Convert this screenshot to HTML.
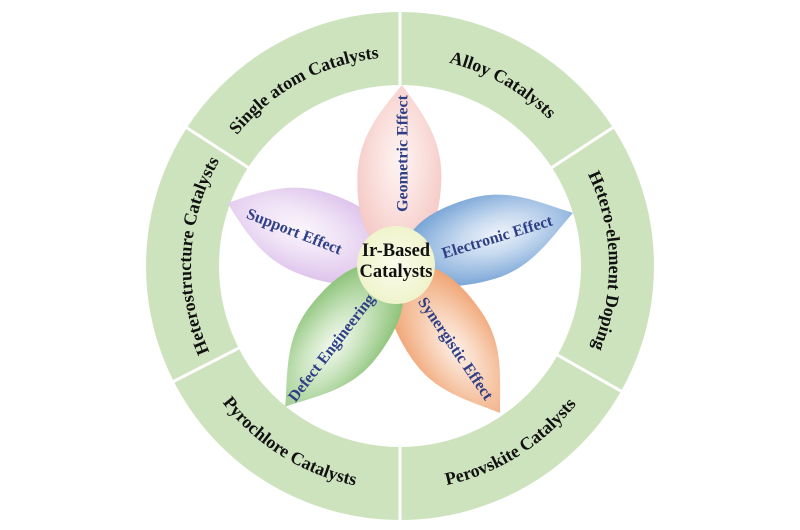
<!DOCTYPE html>
<html>
<head>
<meta charset="utf-8">
<style>
  html,body{margin:0;padding:0;background:#ffffff;}
  body{width:800px;height:530px;overflow:hidden;}
  svg{display:block;}
  .ring{font-family:"Liberation Serif",serif;font-weight:bold;font-size:18px;fill:#111;}
  .pt{font-family:"Liberation Serif",serif;font-weight:bold;font-size:16px;fill:#2f3f85;}
  .ct{font-family:"Liberation Serif",serif;font-weight:bold;font-size:18.5px;fill:#111;}
</style>
</head>
<body>
<svg width="800" height="530" viewBox="0 0 800 530" xmlns="http://www.w3.org/2000/svg">
  <defs>
    <path id="arcTop" d="M191,266 A209,209 0 0 1 609,266"/>
    <path id="arcBot" d="M176,266 A224,224 0 0 0 624,266"/>
    <radialGradient id="gPink" cx="0.55" cy="0.5" r="0.55">
      <stop offset="0" stop-color="#fdf4f3"/>
      <stop offset="0.45" stop-color="#fbe3e0"/>
      <stop offset="1" stop-color="#f5cac6"/>
    </radialGradient>
    <radialGradient id="gBlue" cx="0.55" cy="0.5" r="0.55">
      <stop offset="0" stop-color="#eef3fa"/>
      <stop offset="0.4" stop-color="#c6d9ef"/>
      <stop offset="1" stop-color="#7aa6d7"/>
    </radialGradient>
    <radialGradient id="gOrange" cx="0.55" cy="0.5" r="0.55">
      <stop offset="0" stop-color="#fdf0e8"/>
      <stop offset="0.45" stop-color="#f8d1b7"/>
      <stop offset="1" stop-color="#f0a676"/>
    </radialGradient>
    <radialGradient id="gGreen" cx="0.55" cy="0.5" r="0.55">
      <stop offset="0" stop-color="#f3f9f0"/>
      <stop offset="0.45" stop-color="#cbe5c0"/>
      <stop offset="1" stop-color="#8fc47c"/>
    </radialGradient>
    <radialGradient id="gLav" cx="0.55" cy="0.5" r="0.55">
      <stop offset="0" stop-color="#faf5fc"/>
      <stop offset="0.45" stop-color="#f0e2f6"/>
      <stop offset="1" stop-color="#ddc3eb"/>
    </radialGradient>
    <radialGradient id="gCenter" cx="0.5" cy="0.5" r="0.5">
      <stop offset="0" stop-color="#fbfcec"/>
      <stop offset="1" stop-color="#eff4cc"/>
    </radialGradient>
  </defs>

  <!-- Ring -->
  <circle cx="400" cy="266" r="217.5" fill="none" stroke="#cde3bd" stroke-width="73"/>

  <!-- Dividers -->
  <g stroke="#ffffff" stroke-width="3">
    <line x1="400" y1="87" x2="400" y2="8"/>
    <line x1="551" y1="168" x2="616" y2="125.5"/>
    <line x1="556.7" y1="354.6" x2="624" y2="392.8"/>
    <line x1="400" y1="445" x2="400" y2="524"/>
    <line x1="239.6" y1="347.7" x2="170.5" y2="383"/>
    <line x1="249" y1="168" x2="184" y2="126"/>
  </g>

  <!-- Ring labels -->
  <g transform="rotate(-28.5 400 266)"><text class="ring"><textPath href="#arcTop" startOffset="50%" text-anchor="middle">Single atom Catalysts</textPath></text></g>
  <g transform="rotate(29.5 400 266)"><text class="ring"><textPath href="#arcTop" startOffset="50%" text-anchor="middle">Alloy Catalysts</textPath></text></g>
  <g transform="rotate(88.5 400 266)"><text class="ring"><textPath href="#arcTop" startOffset="50%" text-anchor="middle">Hetero-element Doping</textPath></text></g>
  <g transform="rotate(-87 400 266)"><text class="ring"><textPath href="#arcTop" startOffset="50%" text-anchor="middle">Heterostructure Catalysts</textPath></text></g>
  <g transform="rotate(-32 400 266)"><text class="ring"><textPath href="#arcBot" startOffset="50%" text-anchor="middle">Perovskite Catalysts</textPath></text></g>
  <g transform="rotate(32 400 266)"><text class="ring"><textPath href="#arcBot" startOffset="50%" text-anchor="middle">Pyrochlore Catalysts</textPath></text></g>

  <!-- Petals -->
  <path transform="translate(397,263) rotate(199.5)" fill="url(#gLav)" d="M8,0 C12,-32 45,-44 88,-43 C128,-42 152,-22 180,0 C152,22 128,42 88,43 C45,44 12,32 8,0 Z"/>
  <path transform="translate(397,263) rotate(-88.4)" fill="url(#gPink)" d="M8,0 C12,-30 45,-42 85,-42 C125,-42 150,-22 178,0 C150,22 125,42 85,42 C45,42 12,30 8,0 Z"/>
  <path transform="translate(397,263) rotate(-15.9)" fill="url(#gBlue)" d="M8,0 C12,-30 45,-42 88,-42 C128,-42 152,-20 183,0 C152,20 128,42 88,42 C45,42 12,30 8,0 Z"/>
  <path transform="translate(397,263) rotate(55.5)" fill="url(#gOrange)" d="M8,0 C12,-30 45,-42 88,-42 C128,-42 152,-20 182,0 C152,20 128,42 88,42 C45,42 12,30 8,0 Z"/>
  <path transform="translate(397,263) rotate(127.9)" fill="url(#gGreen)" d="M8,0 C12,-30 45,-42 88,-42 C128,-42 152,-20 182,0 C152,20 128,42 88,42 C45,42 12,30 8,0 Z"/>

  <!-- Center circle -->
  <circle cx="396" cy="265" r="39" fill="url(#gCenter)"/>

  <!-- Petal labels -->
  <text class="pt" text-anchor="middle" dy="0.35em" transform="translate(402,153.5) rotate(-90)">Geometric Effect</text>
  <text class="pt" text-anchor="middle" dy="0.35em" transform="translate(294.5,231) rotate(21.5)">Support Effect</text>
  <text class="pt" text-anchor="middle" dy="0.35em" transform="translate(497,236.5) rotate(-17)">Electronic Effect</text>
  <text class="pt" text-anchor="middle" dy="0.35em" transform="translate(331,347.5) rotate(-52.4)">Defect Engineering</text>
  <text class="pt" text-anchor="middle" dy="0.35em" transform="translate(456,348.3) rotate(55.7)">Synergistic Effect</text>

  <!-- Center text -->
  <text class="ct" x="396" y="256" text-anchor="middle">Ir-Based</text>
  <text class="ct" x="396" y="277" text-anchor="middle">Catalysts</text>
</svg>
</body>
</html>
